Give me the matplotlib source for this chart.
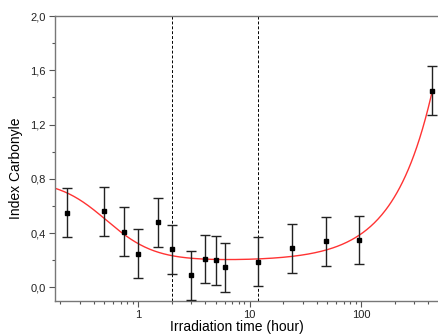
import numpy as np
import matplotlib
matplotlib.use("Agg")
import matplotlib.pyplot as plt
from matplotlib.ticker import FixedLocator, FuncFormatter, LogLocator, NullFormatter, MultipleLocator

plt.rcParams['font.family'] = ['Liberation Sans', 'DejaVu Sans']

# irradiation times (hours) and carbonyl index
hours = [0.23, 0.5, 0.75, 1, 1.5, 2, 3, 4, 5, 6, 12, 24, 48, 96, 432]
index_co = [0.55, 0.56, 0.41, 0.25, 0.48, 0.28, 0.09, 0.21, 0.20, 0.15, 0.19, 0.29, 0.34, 0.35, 1.45]
errors = [0.18, 0.18, 0.18, 0.18, 0.18, 0.18, 0.18, 0.18, 0.18, 0.18, 0.18, 0.18, 0.18, 0.18, 0.18]
stage_limits = [2, 12]

# fitted model: baseline + sigmoid decay + power growth
fit_c, fit_a, fit_x0, fit_p = 0.195, 0.6, 0.52, 2.0
fit_b, fit_q = 0.00063, 1.25


def fit_curve(t):
    return fit_c + fit_a / (1 + (t / fit_x0) ** fit_p) + fit_b * t ** fit_q


fig = plt.figure(figsize=(4.38, 3.35), dpi=100)
ax = fig.add_axes([55 / 438, 34 / 335, 384 / 438, 285 / 335])

t = np.logspace(np.log10(0.18), np.log10(hours[-1]), 400)
ax.plot(t, fit_curve(t), color='#ff3333', lw=1.0, zorder=2)

ax.errorbar(hours, index_co, yerr=errors, fmt='s', color='black', ms=3.3,
            ecolor='#222222', elinewidth=1.0, capsize=3.5, capthick=1.0, zorder=3)

for x in stage_limits:
    ax.axvline(x, color='black', ls=(0, (3, 2)), lw=0.7, zorder=1)

ax.set_xscale('log')
ax.set_xlim(0.18, 500)
ax.set_ylim(-0.1, 2.0)

ax.xaxis.set_major_locator(FixedLocator([1, 10, 100]))
ax.xaxis.set_major_formatter(FuncFormatter(lambda v, p: '%g' % v))
ax.xaxis.set_minor_locator(LogLocator(base=10, subs=np.arange(2, 10)))
ax.xaxis.set_minor_formatter(NullFormatter())

ax.yaxis.set_major_locator(MultipleLocator(0.4))
ax.yaxis.set_minor_locator(MultipleLocator(0.2))
ax.yaxis.set_major_formatter(FuncFormatter(lambda v, p: ('%.1f' % v).replace('.', ',').replace('-0,0', '0,0')))

for s in ['left', 'bottom', 'top']:
    ax.spines[s].set_color('#777777')
    ax.spines[s].set_linewidth(1.0)
ax.spines['right'].set_visible(False)

ax.tick_params(which='major', direction='out', length=4.5, width=0.8, color='#555555',
               labelsize=8, labelcolor='#222222', pad=2)
ax.tick_params(which='minor', direction='out', length=2.5, width=0.8, color='#555555')
ax.tick_params(axis='x', which='both', top=False)

ax.set_ylabel('Index Carbonyle', fontsize=10)
ax.yaxis.set_label_coords(-0.083, 0.467)
fig.text(237 / 438, 1 - 327.5 / 335, 'Irradiation time (hour)', fontsize=10,
         ha='center', va='center')

fig.savefig('out.png', dpi=100)
